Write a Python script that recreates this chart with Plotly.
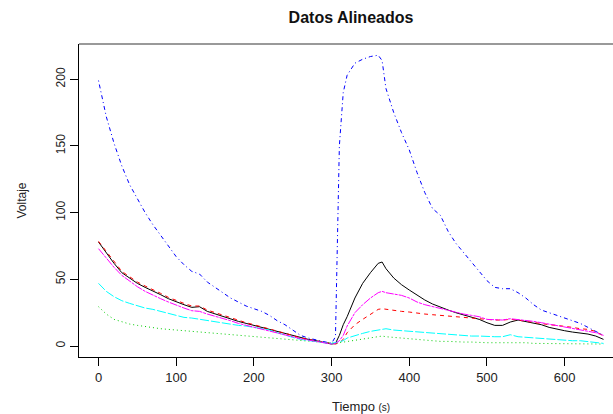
import plotly.graph_objects as go

# Sampling instants (s)
tiempo = list(range(0, 301, 10)) + [305, 310, 315, 320, 330, 340, 350, 360, 365, 370] + list(range(380, 651, 10))

# Voltage traces, one per sensor
serie_negra = [78, 70, 62, 55, 51, 47, 44, 41.5, 38.5, 35.5, 33, 31, 29, 29.5, 26, 24, 22, 20.5, 18.5, 17,
               15.5, 14, 12.5, 10.5, 9, 7.5, 6, 5, 4, 3, 1.5,
               2, 8, 16, 22, 36, 47, 55, 62, 63, 58,
               51, 46, 42, 38, 34.5, 31.5, 29, 27, 25, 23.5, 22, 20, 17.5, 15.5, 15.5, 18, 19.5, 18.5,
               17, 16, 14, 12.5, 11.5, 10.5, 10, 9, 7.5, 5]
serie_roja = [78.5, 71, 63, 56, 52, 48, 45, 42.5, 39.5, 36.5, 34, 32, 30, 30, 27, 25, 23, 21, 19.5, 17.5,
              16, 14.5, 13, 11, 9.5, 8, 6, 5, 4, 3, 1.5,
              1.5, 2.5, 5, 10, 16, 20, 24, 27.5, 28, 27.5,
              27, 26, 25.5, 24.5, 24, 23.5, 23, 22.5, 22, 21.5, 21, 20.5, 19.5, 19.5, 19.5, 20, 19.5, 18.5,
              17.5, 17, 16, 15.5, 15, 14, 13, 12.5, 11, 7.5]
serie_verde = [29.5, 24, 20, 18, 16.5, 15.5, 14.5, 13.5, 13, 12.5, 12, 11.5, 11, 11, 10, 9.5, 9, 8.5, 8, 7.5,
               7, 6.5, 6, 5.5, 5, 4.5, 4, 3.5, 3, 2.5, 2,
               2, 2.5, 3, 3.5, 4.5, 5.5, 6.5, 7, 7.5, 7,
               6.5, 6, 5, 4.5, 4, 4, 3.5, 3.5, 3, 3, 3, 2.5, 2.5, 2.5, 2.5, 3, 2.5, 2.5,
               2, 2, 2, 2, 2, 1.5, 1.5, 1.5, 1.5, 1.5]
serie_azul = [199, 172, 152, 135, 121, 110, 100, 91, 83, 75, 67, 61, 56, 54, 48, 44, 40, 36, 33, 30,
              28, 26, 23, 19, 16, 12, 8, 6, 4.5, 3, 2,
              7, 150, 190, 203, 212, 215, 217, 218, 214, 193,
              175, 160, 147, 130, 115, 103, 98, 86, 77, 70, 63, 56, 49, 44, 43, 43, 40, 36,
              31, 27, 25, 23, 21, 19, 17, 14, 11, 8]
serie_cian = [47, 41, 37, 34, 32, 30, 28.5, 27.5, 26, 24.5, 23, 21.5, 21, 20, 19, 18.5, 17.5, 16.5, 15.5, 15,
              14, 13.5, 12, 10, 8, 6.5, 5, 4, 3, 2.5, 2,
              2.5, 3, 4, 6, 8, 9.5, 11, 12, 12.5, 13,
              12, 11.5, 11, 10.5, 10, 9.5, 9.5, 9, 8.5, 8, 7.5, 7.5, 7, 7, 7, 8.5, 7, 6.5,
              6.5, 6, 5.5, 5, 4.5, 4, 4, 3.5, 3, 2]
serie_magenta = [73, 66, 59, 53, 48.5, 44.5, 41, 38, 35.5, 33, 30.5, 28.5, 26.5, 26, 24, 22.5, 21, 19, 17, 15.5,
                 14, 13, 11.5, 10, 8.5, 7, 5.5, 4.5, 3.5, 2.5, 1.5,
                 2, 4, 8, 15, 25, 31, 36, 40, 41, 40,
                 39, 38, 36, 33, 31, 29.5, 28, 26.5, 25, 24, 23, 22, 20, 19.5, 19.5, 20.5, 20, 19,
                 18.5, 17.5, 16.5, 15.5, 14, 13, 12, 11, 10, 8]

x_ticks = [0, 100, 200, 300, 400, 500, 600]
y_ticks = [0, 50, 100, 150, 200]

series = [
    (serie_negra, "#000000", "solid"),
    (serie_roja, "#FF0000", "4px,4px"),
    (serie_verde, "#00CD00", "1px,3px"),
    (serie_azul, "#0000FF", "1px,3px,4px,3px"),
    (serie_cian, "#00FFFF", "9px,2px"),
    (serie_magenta, "#FF00FF", "8px,1px,3px,1px"),
]

fig = go.Figure()
for valores, color, guion in series:
    fig.add_trace(go.Scatter(x=tiempo, y=valores, mode="lines",
                             line=dict(color=color, width=1, dash=guion),
                             showlegend=False, hoverinfo="skip"))

fuente = "Liberation Sans, Arial, sans-serif"

fig.update_layout(
    width=613, height=414,
    margin=dict(l=79, r=0, t=44, b=57),
    paper_bgcolor="white", plot_bgcolor="white",
    font=dict(family=fuente, size=12, color="#222222"),
    title=dict(text="<b>Datos Alineados</b>", x=351 / 613, xanchor="center",
               xref="container", y=1 - 17 / 414, yanchor="middle", yref="container",
               font=dict(family=fuente, size=16, color="#111111")),
    xaxis=dict(range=[-25.1, 662.2], tickvals=x_ticks, ticks="outside", ticklen=8,
               tickcolor="#000000", showgrid=False, zeroline=False, showline=True,
               linecolor="#000000", linewidth=1, tickfont=dict(size=13)),
    yaxis=dict(range=[-8.2, 226.4], tickvals=y_ticks, ticks="outside", ticklen=8,
               tickcolor="#000000", showgrid=False, zeroline=False, showline=True,
               linecolor="#000000", linewidth=1, tickangle=-90, tickfont=dict(size=12)),
    shapes=[dict(type="line", xref="paper", yref="paper", x0=0, x1=1, y0=1, y1=1,
                 line=dict(color="#999999", width=2))],
    annotations=[
        dict(text="Tiempo <span style='font-size:10px'>(s)</span>", xref="paper", yref="paper",
             x=(361 - 79) / 534, y=-(406 - 357) / 313, xanchor="center", yanchor="middle",
             showarrow=False, font=dict(size=13)),
        dict(text="Voltaje", xref="paper", yref="paper", textangle=-90,
             x=-(79 - 21) / 534, y=0.5, xanchor="center", yanchor="middle",
             showarrow=False, font=dict(size=12)),
    ],
)

fig.write_html("out.html")
